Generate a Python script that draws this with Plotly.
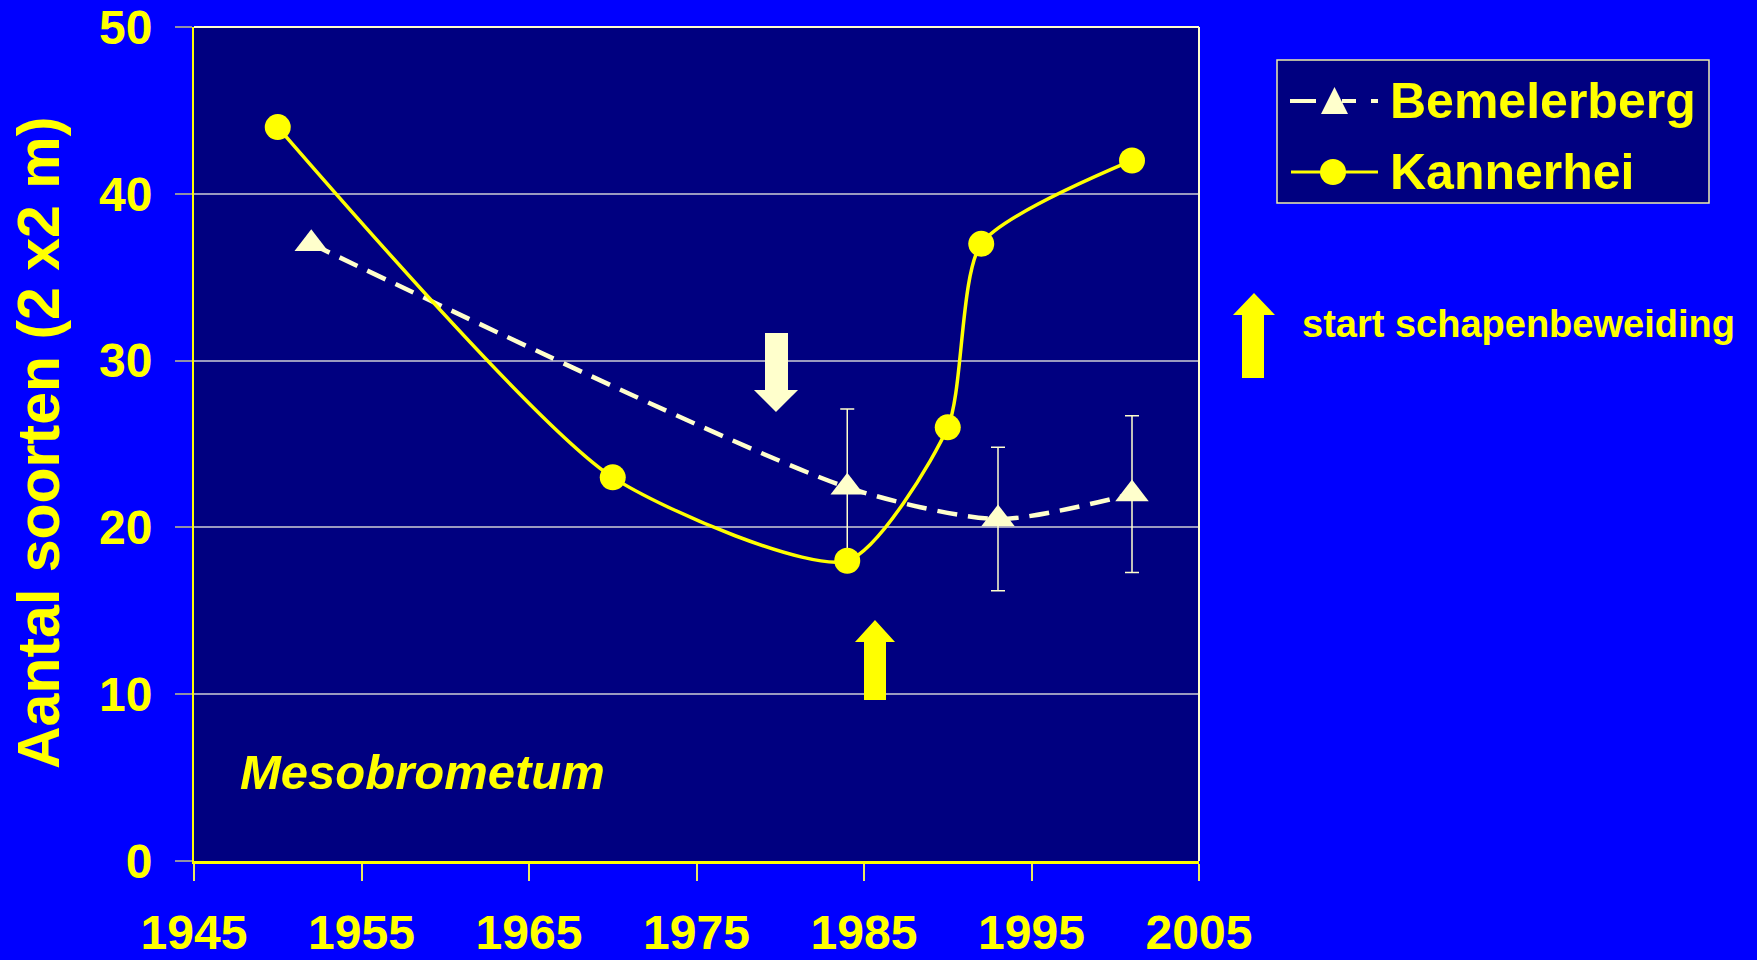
import plotly.graph_objects as go

# ---------------- data ----------------
bem_years = [1952, 1984, 1993, 2001]
bem_values = [37.0, 22.4, 20.5, 22.0]
bem_err = [None, 4.7, 4.3, 4.7]

kan_years = [1950, 1970, 1984, 1990, 1992, 2001]
kan_values = [44.0, 23.0, 18.0, 26.0, 37.0, 42.0]

x_ticks = [1945, 1955, 1965, 1975, 1985, 1995, 2005]
y_ticks = [0, 10, 20, 30, 40, 50]

series_names = ["Bemelerberg", "Kannerhei"]
note_text = "start schapenbeweiding"
plot_label = "Mesobrometum"
y_title = "Aantal soorten (2 x2 m)"

# ---------------- layout geometry ----------------
W, H = 1757, 960
L, R, T, B = 194, 1199, 27, 861  # plot area in pixels

def px(x):
    return (x - L) / (R - L)

def py(y):
    return (B - y) / (B - T)

YEL = "#FFFF00"
CREAM = "#FFFFCC"
FONT = "Liberation Sans, Arial, sans-serif"

fig = go.Figure()

fig.add_trace(go.Scatter(
    x=bem_years, y=bem_values, name=series_names[0], mode="lines+markers",
    line=dict(color=CREAM, width=4.5, dash="20px,11px", shape="spline", smoothing=0.7),
    marker=dict(symbol="triangle-up", size=29, color=CREAM),
    error_y=dict(type="data", array=bem_err, symmetric=True, color=CREAM, thickness=1.5, width=7),
    showlegend=False,
))
fig.add_trace(go.Scatter(
    x=kan_years, y=kan_values, name=series_names[1], mode="lines+markers",
    line=dict(color=YEL, width=3.5, shape="spline", smoothing=0.65),
    marker=dict(symbol="circle", size=26, color=YEL),
    showlegend=False,
))

shapes = []
# plot border (top and right)
shapes.append(dict(type="line", xref="paper", yref="paper", x0=0, x1=1, y0=1, y1=1,
                   line=dict(color=CREAM, width=2)))
shapes.append(dict(type="line", xref="paper", yref="paper", x0=1, x1=1, y0=0, y1=1,
                   line=dict(color=CREAM, width=2)))

def block_arrow(hx0, hx1, sx0, sx1, tip_y, base_y, end_y, color):
    cx = (hx0 + hx1) / 2
    pts = [(cx, tip_y), (hx1, base_y), (sx1, base_y), (sx1, end_y),
           (sx0, end_y), (sx0, base_y), (hx0, base_y)]
    path = "M " + " L ".join(f"{px(a):.5f},{py(b):.5f}" for a, b in pts) + " Z"
    return dict(type="path", xref="paper", yref="paper", path=path,
                fillcolor=color, line=dict(width=0))

# down arrow (cream), up arrow (yellow) in the plot, and key arrow
shapes.append(block_arrow(754, 798, 765, 788, 412, 390, 333, CREAM))
shapes.append(block_arrow(855, 895, 864, 886, 620, 642, 700, YEL))
shapes.append(block_arrow(1233, 1275, 1242, 1264, 293, 315, 378, YEL))

# legend box
shapes.append(dict(type="rect", xref="paper", yref="paper",
                   x0=px(1277), x1=px(1709), y0=py(60), y1=py(203),
                   fillcolor="#000080", line=dict(color="#EEEEAA", width=1.5)))
# legend glyph: Bemelerberg
ly1 = 101
for a, b in [(1290, 1316), (1342, 1356), (1371, 1378)]:
    shapes.append(dict(type="line", xref="paper", yref="paper",
                       x0=px(a), x1=px(b), y0=py(ly1), y1=py(ly1),
                       line=dict(color=CREAM, width=4)))
tri = [(1334.5, 87), (1348, 114), (1321, 114)]
shapes.append(dict(type="path", xref="paper", yref="paper",
                   path="M " + " L ".join(f"{px(a):.5f},{py(b):.5f}" for a, b in tri) + " Z",
                   fillcolor=CREAM, line=dict(width=0)))
# legend glyph: Kannerhei
ly2 = 172
shapes.append(dict(type="line", xref="paper", yref="paper",
                   x0=px(1291), x1=px(1378), y0=py(ly2), y1=py(ly2),
                   line=dict(color=YEL, width=3)))
shapes.append(dict(type="circle", xref="paper", yref="paper",
                   x0=px(1320), x1=px(1346), y0=py(ly2 + 13), y1=py(ly2 - 13),
                   fillcolor=YEL, line=dict(width=0)))

annotations = [
    dict(text=series_names[0], x=px(1388), y=py(101), xref="paper", yref="paper",
         xanchor="left", yanchor="middle", showarrow=False,
         font=dict(family=FONT, size=50, color=YEL, weight="bold")),
    dict(text=series_names[1], x=px(1388), y=py(172), xref="paper", yref="paper",
         xanchor="left", yanchor="middle", showarrow=False,
         font=dict(family=FONT, size=50, color=YEL, weight="bold")),
    dict(text=note_text, x=px(1300), y=py(324), xref="paper", yref="paper",
         xanchor="left", yanchor="middle", showarrow=False,
         font=dict(family=FONT, size=38, color=YEL, weight="bold")),
    dict(text=plot_label, x=px(238), y=py(772), xref="paper", yref="paper",
         xanchor="left", yanchor="middle", showarrow=False,
         font=dict(family=FONT, size=49, color=YEL, weight="bold", style="italic")),
    dict(text=y_title, x=px(39), y=py(443), xref="paper", yref="paper",
         xanchor="center", yanchor="middle", showarrow=False, textangle=-90,
         font=dict(family=FONT, size=59, color=YEL, weight="bold")),
]

fig.update_layout(
    width=W, height=H,
    paper_bgcolor="#0000FF", plot_bgcolor="#000080",
    margin=dict(l=L, r=W - R, t=T, b=H - B, autoexpand=False),
    shapes=shapes, annotations=annotations,
    showlegend=False,
    xaxis=dict(range=[1945, 2005], tickvals=x_ticks, ticktext=[str(v) for v in x_ticks],
               showgrid=False, zeroline=False, showline=True, linecolor=YEL, linewidth=3,
               ticks="outside", ticklen=17, tickwidth=1.5, tickcolor="#E8E860",
               ticklabelstandoff=10,
               tickfont=dict(family=FONT, size=48, color=YEL, weight="bold")),
    yaxis=dict(range=[0, 50], tickvals=y_ticks, ticktext=[str(v) for v in y_ticks],
               showgrid=True, gridcolor="#9A9AC0", gridwidth=1.5, zeroline=False,
               showline=True, linecolor=YEL, linewidth=2,
               ticks="outside", ticklen=17, tickwidth=2, tickcolor="#9090A8",
               ticklabelstandoff=13,
               tickfont=dict(family=FONT, size=48, color=YEL, weight="bold")),
)

fig.write_html(
    "out.html",
    config={"displayModeBar": False},
    post_script="document.body.style.margin='0px';document.body.style.overflow='hidden';"
                "document.documentElement.style.overflow='hidden';",
)
